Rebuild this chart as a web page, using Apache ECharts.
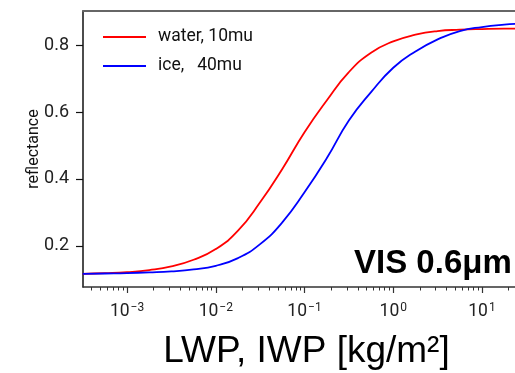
<!DOCTYPE html>
<html>
<head>
<meta charset="utf-8">
<script src="https://cdn.jsdelivr.net/npm/echarts@6/dist/echarts.min.js"></script>
<style>html,body{margin:0;padding:0;background:#fff}#c{width:515px;height:373px}</style>
</head>
<body>
<div id="c"></div>
<script>
// LWP / IWP sample points [kg/m^2] (quarter-decade steps)
const lwp = [0.000316, 0.000562, 0.001, 0.00178, 0.00316, 0.00562, 0.01, 0.0178, 0.0316, 0.0562,
             0.1, 0.178, 0.316, 0.562, 1, 1.78, 3.16, 5.62, 10, 17.8, 31.6];
// reflectance
const waterRefl = [0.116, 0.118, 0.121, 0.127, 0.138, 0.158, 0.19, 0.245, 0.33, 0.43,
                   0.54, 0.635, 0.72, 0.778, 0.812, 0.832, 0.843, 0.847, 0.849, 0.85, 0.85];
const iceRefl   = [0.116, 0.117, 0.118, 0.12, 0.123, 0.129, 0.14, 0.163, 0.205, 0.27,
                   0.36, 0.462, 0.575, 0.66, 0.733, 0.782, 0.818, 0.843, 0.855, 0.862, 0.866];
const seriesNames = ['water, 10mu', 'ice,   40mu'];
const majorTicks = [0.001, 0.01, 0.1, 1, 10];
const minorTicks = [0.0004, 0.0005, 0.0006, 0.0007, 0.0008, 0.0009,
  0.002, 0.003, 0.004, 0.005, 0.006, 0.007, 0.008, 0.009,
  0.02, 0.03, 0.04, 0.05, 0.06, 0.07, 0.08, 0.09,
  0.2, 0.3, 0.4, 0.5, 0.6, 0.7, 0.8, 0.9,
  2, 3, 4, 5, 6, 7, 8, 9, 20];
const yTicks = [0.2, 0.4, 0.6, 0.8];
const xMin = 0.000319, xMax = 23.55, yMin = 0.0765, yMax = 0.903;

const chart = echarts.init(document.getElementById('c'), null, {renderer: 'canvas'});
const pair = (ys) => lwp.map((x, i) => [x, ys[i]]);
const supExp = (v) => String(Math.round(Math.log10(v)));
const option = {
  animation: false,
  backgroundColor: '#fff',
  title: {
    text: 'VIS 0.6μm', left: 349, top: 242,
    textStyle: {fontFamily: 'Liberation Sans', fontWeight: 'bold', fontSize: 33, color: '#000'}
  },
  legend: {
    orient: 'vertical', left: 98, top: 22, itemGap: 9,
    itemWidth: 43, itemHeight: 2, icon: 'rect',
    data: seriesNames,
    textStyle: {fontFamily: 'Roboto', fontSize: 17.5, color: '#111', lineHeight: 20, padding: [0, 0, 0, 7]}
  },
  grid: {left: 83, top: 11, right: 0, bottom: 86, containLabel: false, outerBoundsMode: 'none'},
  xAxis: [
    {
      type: 'log', min: xMin, max: xMax, position: 'bottom',
      axisLine: {lineStyle: {color: '#333', width: 1.5}},
      axisTick: {customValues: majorTicks, length: 6, inside: false, lineStyle: {color: '#333', width: 1.2}},
      axisLabel: {
        customValues: majorTicks, margin: 15,
        formatter: (v) => '{a|10}{b|' + supExp(v).replace('-', '−') + '}',
        rich: {
          a: {fontFamily: 'Roboto', fontSize: 17.5, color: '#222', lineHeight: 20},
          b: {fontFamily: 'Roboto', fontSize: 12, color: '#222', lineHeight: 20, verticalAlign: 'top', padding: [0, 0, 10, 1]}
        }
      },
      splitLine: {show: false},
      name: 'LWP, IWP [kg/m²]', nameLocation: 'middle', nameGap: 46, nameMoveOverlap: false,
      nameTextStyle: {fontFamily: 'Liberation Sans', fontSize: 37, color: '#000', padding: [0, 0, 0, 15]}
    },
    {
      type: 'log', min: xMin, max: xMax, position: 'bottom',
      axisLine: {show: false},
      axisTick: {customValues: minorTicks, length: 3.5, lineStyle: {color: '#333', width: 1}},
      axisLabel: {show: false},
      splitLine: {show: false}
    },
    {
      type: 'log', min: xMin, max: xMax, position: 'top',
      axisLine: {lineStyle: {color: '#666', width: 2}},
      axisTick: {show: false}, axisLabel: {show: false}, splitLine: {show: false}
    }
  ],
  yAxis: {
    type: 'value', min: yMin, max: yMax,
    axisLine: {show: true, lineStyle: {color: '#111', width: 1.5}},
    axisTick: {show: true, customValues: yTicks, length: 7, lineStyle: {color: '#111', width: 1.2}},
    axisLabel: {customValues: yTicks, margin: 14, fontFamily: 'Roboto', fontSize: 18, color: '#222',
                formatter: (v) => v.toFixed(1)},
    splitLine: {show: false},
    name: 'reflectance', nameLocation: 'middle', nameGap: 41, nameMoveOverlap: false,
    nameTextStyle: {fontFamily: 'Roboto', fontSize: 16, color: '#111'}
  },
  series: [
    {name: seriesNames[0], type: 'line', data: pair(waterRefl), showSymbol: false, smooth: 0.5,
     lineStyle: {color: '#ff0000', width: 1.8}, itemStyle: {color: '#ff0000'}},
    {name: seriesNames[1], type: 'line', data: pair(iceRefl), showSymbol: false, smooth: 0.5,
     lineStyle: {color: '#0000ff', width: 1.8}, itemStyle: {color: '#0000ff'}}
  ]
};
chart.setOption(option);
</script>
</body>
</html>
